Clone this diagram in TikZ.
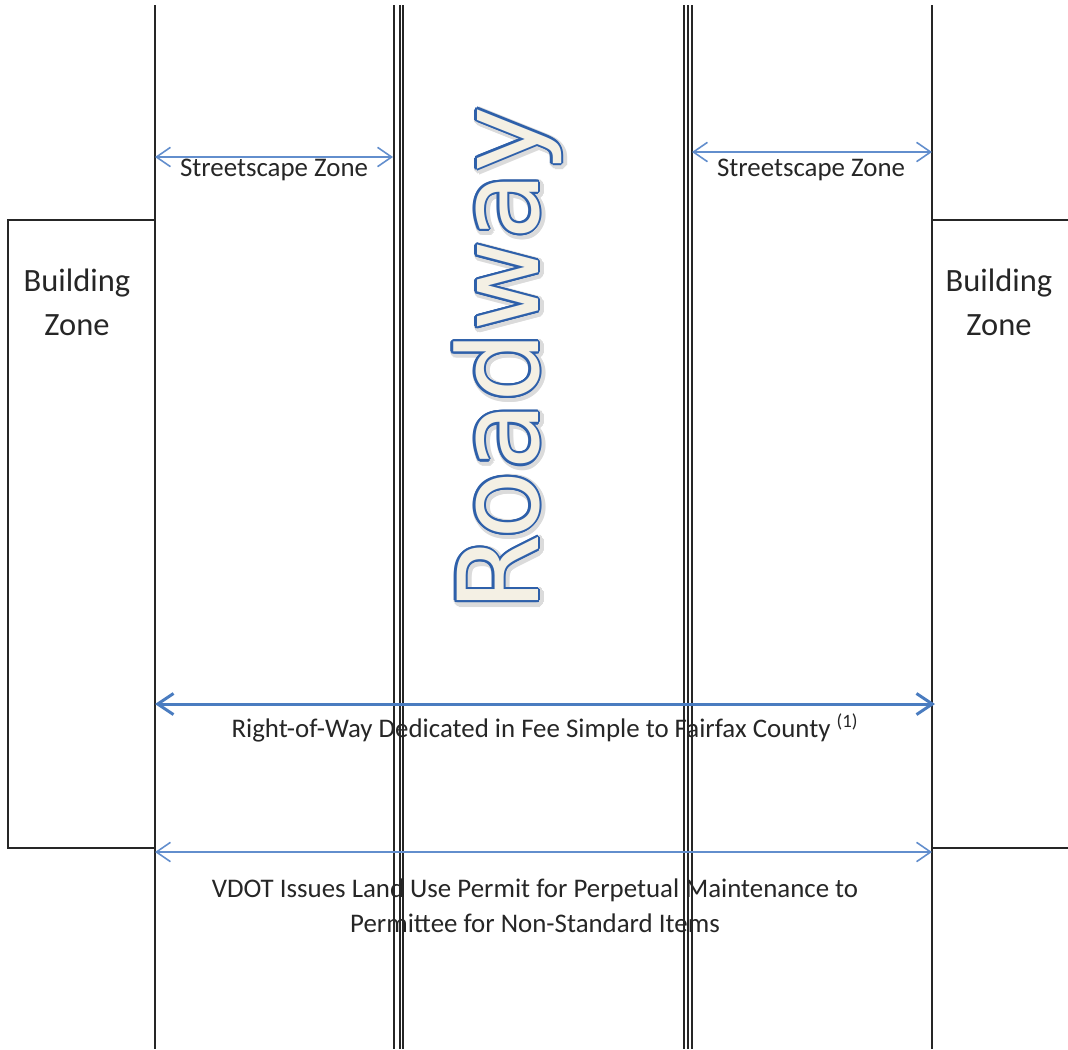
\documentclass[tikz,border=0pt]{standalone}
\usepackage{fontspec}
\setmainfont{Carlito}
\newfontfamily\roadfont{DejaVu Sans}
\usepackage[copies]{contour}
\usetikzlibrary{arrows.meta}
\definecolor{dimblue}{RGB}{98,142,205}
\definecolor{rowblue}{RGB}{74,124,192}
\definecolor{roadblue}{RGB}{46,96,170}
\definecolor{roadfill}{RGB}{244,240,228}

\tikzset{
  wall/.style={line width=1.1pt, black!85},
  curb/.style={line width=0.8pt, black!85},
  zone/.style={{Straight Barb[length=8pt,width=11pt]}-{Straight Barb[length=8pt,width=11pt]},
    dimblue, line width=0.9pt},
  row/.style={{Straight Barb[length=9pt,width=12pt]}-{Straight Barb[length=9pt,width=12pt]},
    rowblue, line width=1.7pt},
  lbl/.style={font=\fontsize{15.3}{20}\selectfont, text=black!85, inner sep=0pt, align=center},
  bldg/.style={font=\fontsize{18.5}{25}\selectfont, text=black!85, inner sep=0pt, align=center},
}

\begin{document}
\begin{tikzpicture}[x=0.02cm, y=-0.02cm]
  \def\xl{155}
  \def\xr{932}
  \def\yhi{5}
  \def\ylo{1049}

  \useasboundingbox (0,0) rectangle (1068,1049);

  % streetscape edges
  \draw[wall] (\xl,\yhi) -- (\xl,\ylo);
  \draw[wall] (\xr,\yhi) -- (\xr,\ylo);

  % roadway edges
  \foreach \x in {394,400,403,684,688,692}
    \draw[curb] (\x,\yhi) -- (\x,\ylo);

  % building zones
  \draw[wall] (\xl,220) -| (8,848) -- (\xl,848);
  \draw[wall] (\xr,220) -- (1068,220) (\xr,848) -- (1068,848);

  \node[bldg] (bl) at (77,302)  {Building\\Zone};
  \node[bldg] (br) at (999,302) {Building\\Zone};

  % roadway title
  \node[rotate=90, anchor=base, font=\roadfont\fontsize{63.5}{63.5}\selectfont] (shadow) at (540,361)
    {\contourlength{2.4pt}\contour{black!14}{\textcolor{black!14}{Roadway}}};
  \node[rotate=90, anchor=base, font=\roadfont\fontsize{63.5}{63.5}\selectfont] (road) at (538,359)
    {\contourlength{1.2pt}\contour{roadblue}{\textcolor{roadfill}{Roadway}}};

  % dimensions
  \coordinate (s1) at (\xl,157);
  \coordinate (s2) at (393,157);
  \coordinate (s3) at (692,152);
  \coordinate (s4) at (\xr,152);
  \coordinate (w1) at (\xl,704);
  \coordinate (w2) at (935,704);
  \coordinate (v1) at (\xl,852);
  \coordinate (v2) at (\xr,852);

  \draw[zone] (s1) -- (s2);
  \draw[zone] (s3) -- (s4);
  \draw[row]  (w1) -- (w2);
  \draw[zone] (v1) -- (v2);

  \node[lbl] (sl) at (274,170) {Streetscape Zone};
  \node[lbl] (sr) at (811,170) {Streetscape Zone};
  \node[lbl] (rw) at (545,728)
    {Right-of-Way Dedicated in Fee Simple to Fairfax County \textsuperscript{(1)}};
  \node[lbl] (vd) at (535,906)
    {VDOT Issues Land Use Permit for Perpetual Maintenance to\\Permittee for Non-Standard Items};
\end{tikzpicture}
\end{document}
